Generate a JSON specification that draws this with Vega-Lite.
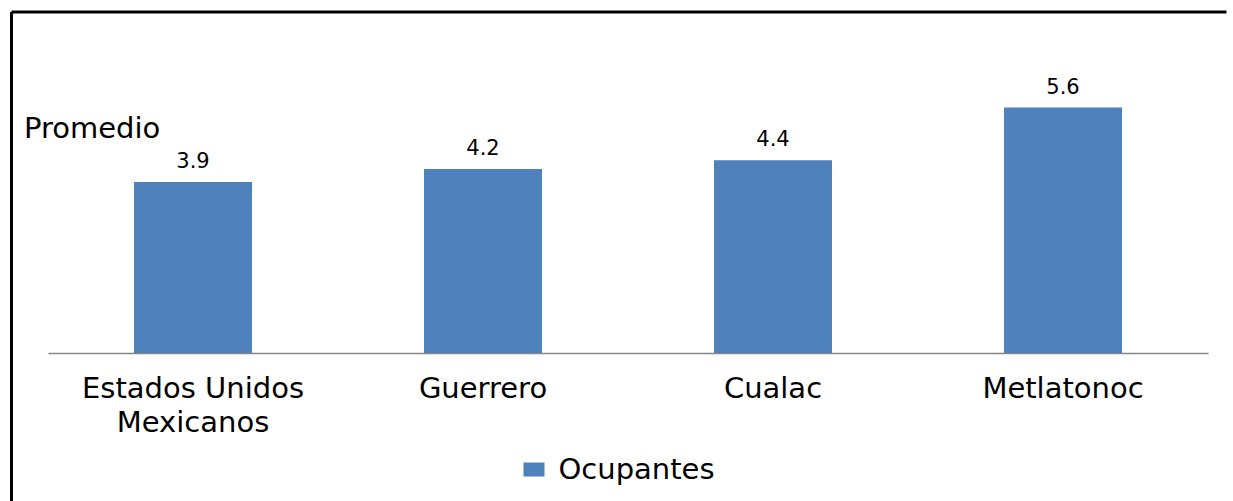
{
  "$schema": "https://vega.github.io/schema/vega-lite/v6.json",
  "width": 1215,
  "height": 489,
  "autosize": {"type": "none"},
  "padding": {"left": 11.5, "top": 12, "right": 0, "bottom": 0},
  "background": "white",
  "config": {
    "view": {"stroke": null},
    "font": "DejaVu Sans"
  },
  "layer": [
    {
      "data": {
        "values": [
          {"lugar": "Estados Unidos Mexicanos", "promedio": 3.9, "serie": "Ocupantes"},
          {"lugar": "Guerrero", "promedio": 4.2, "serie": "Ocupantes"},
          {"lugar": "Cualac", "promedio": 4.4, "serie": "Ocupantes"},
          {"lugar": "Metlatonoc", "promedio": 5.6, "serie": "Ocupantes"}
        ]
      },
      "encoding": {
        "x": {
          "field": "lugar",
          "type": "nominal",
          "sort": null,
          "scale": {"range": [36.5, 1196.5], "paddingInner": 0.593, "paddingOuter": 0.2965},
          "axis": {
            "title": null,
            "labelAngle": 0,
            "ticks": false,
            "tickSize": 0,
            "grid": false,
            "domainColor": "#868686",
            "domainWidth": 1.5,
            "offset": -148,
            "labelFontSize": 29,
            "labelColor": "black",
            "labelBaseline": "alphabetic",
            "labelPadding": 44,
            "labelLineHeight": 34,
            "labelLimit": 0,
            "labelExpr": "datum.label == 'Estados Unidos Mexicanos' ? ['Estados Unidos', 'Mexicanos'] : datum.label"
          }
        },
        "y": {
          "field": "promedio",
          "type": "quantitative",
          "scale": {"domain": [0, 6], "range": [341, 78], "nice": false},
          "axis": {
            "title": "Promedio",
            "titleAngle": 0,
            "titleX": 12,
            "titleY": 125,
            "titleAlign": "left",
            "titleBaseline": "alphabetic",
            "titleFontSize": 29,
            "titleFontWeight": "normal",
            "titleColor": "black",
            "labels": false,
            "ticks": false,
            "domain": false,
            "grid": false
          }
        }
      },
      "layer": [
        {
          "mark": {"type": "bar"},
          "encoding": {
            "color": {
              "field": "serie",
              "type": "nominal",
              "scale": {"range": ["#4F81BD"]},
              "legend": {
                "orient": "none",
                "legendX": 508,
                "legendY": 443,
                "title": null,
                "padding": 0,
                "labelFontSize": 29,
                "labelColor": "black",
                "labelOffset": 10,
                "symbolType": "M-1,-0.667H1V0.667H-1Z",
                "symbolSize": 441,
                "symbolStrokeWidth": 0,
                "symbolOpacity": 1
              }
            }
          }
        },
        {
          "mark": {"type": "text", "baseline": "alphabetic", "dy": -14, "fontSize": 21, "color": "black"},
          "encoding": {
            "text": {"field": "promedio", "type": "quantitative", "format": ".1f"}
          }
        }
      ]
    },
    {
      "data": {"values": [{"borde": 7.779}]},
      "mark": {"type": "rule", "color": "black", "strokeWidth": 3},
      "encoding": {
        "y": {"field": "borde", "type": "quantitative"}
      }
    },
    {
      "data": {"values": [{"borde": 0}]},
      "mark": {"type": "rule", "color": "black", "strokeWidth": 3},
      "encoding": {
        "x": {"field": "borde", "type": "quantitative", "scale": {"domain": [0, 1]}, "axis": null}
      }
    }
  ],
  "resolve": {"scale": {"x": "independent"}, "axis": {"x": "independent"}}
}
